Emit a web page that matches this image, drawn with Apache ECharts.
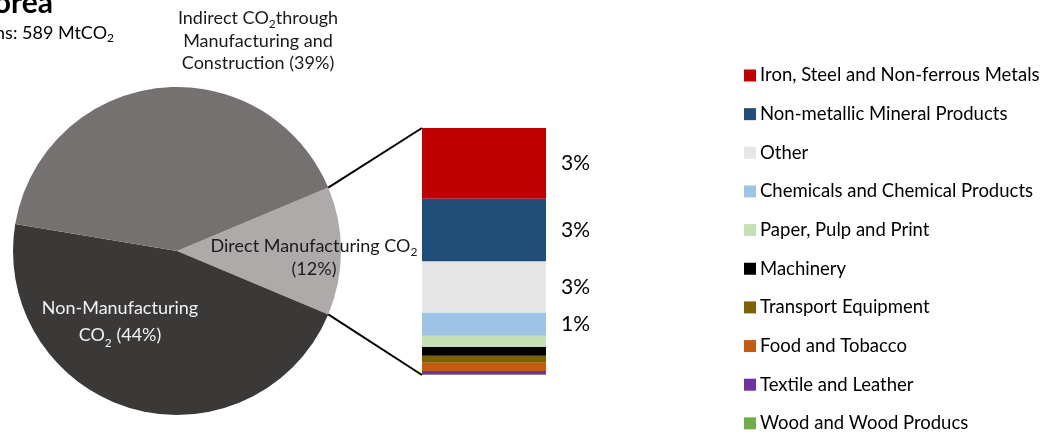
<!DOCTYPE html>
<html>
<head>
<meta charset="utf-8">
<title>Korea – manufacturing CO2</title>
<script src="https://cdn.jsdelivr.net/npm/echarts@6/dist/echarts.min.js"></script>
<style>
  html, body { margin: 0; padding: 0; background: #ffffff; }
  #chart { width: 1055px; height: 437px; }
</style>
</head>
<body>
<div id="chart"></div>
<script>
// Shares of total emissions (%)
const pieNames = ['Direct Manufacturing CO2', 'Non-Manufacturing CO2', 'Indirect CO2 through Manufacturing and Construction'];
const pieValues = [12, 44, 39];
const pieColors = ['#AEAAAA', '#3B3838', '#767171'];

// Breakdown of direct manufacturing CO2 by sector (% of total), top of stack first
const sectorNames = [
  'Iron, Steel and Non-ferrous Metals',
  'Non-metallic Mineral Products',
  'Other',
  'Chemicals and Chemical Products',
  'Paper, Pulp and Print',
  'Machinery',
  'Transport Equipment',
  'Food and Tobacco',
  'Textile and Leather',
  'Wood and Wood Producs'
];
const sectorValues = [3.45, 3.04, 2.5, 1.13, 0.53, 0.44, 0.34, 0.40, 0.18, 0.02];
const sectorColors = ['#C00000', '#1F4E79', '#E7E6E6', '#9DC3E6', '#C5E0B4', '#000000', '#7F6000', '#C55A11', '#7030A0', '#70AD47'];

const titleText = 'Korea';
const totalText = 'Total emissions: 589 MtCO';

const FONT = 'Lato, "Open Sans", sans-serif';
const PIE_CENTER = [177, 251];
const PIE_RADIUS = 164;
const BAR_GRID = { left: 422, top: 128, width: 124, height: 247 };

const pieSum = pieValues.reduce((a, b) => a + b, 0);
const directSweep = 360 * pieValues[0] / pieSum;
const startAngle = directSweep / 2;
const stackTotal = sectorValues.reduce((a, b) => a + b, 0);

function txt(color, lh) {
  return { fontSize: 18, lineHeight: lh, color: color, fontFamily: FONT, textBorderWidth: 0, textShadowBlur: 0 };
}
function subTxt(color) {
  return { fontSize: 12, lineHeight: 11, verticalAlign: 'bottom', color: color, fontFamily: FONT, textBorderWidth: 0, textShadowBlur: 0 };
}

function pieLabel(p) {
  const v = p.value;
  if (p.dataIndex === 0) return '{b|Direct Manufacturing CO}{bs|2}\n{b|(' + v + '%)}';
  if (p.dataIndex === 1) return '{w|Non-Manufacturing}\n{w|CO}{ws|2}{w| (' + v + '%)}';
  return '{k|Indirect CO}{ks|2}{k|through}\n{k|Manufacturing and}\n{k|Construction (' + v + '%)}';
}

// label anchor points for the three slices
const pieLabelPos = [[314, 258], [120, 322], [258, 41]];

const chart = echarts.init(document.getElementById('chart'), null, { renderer: 'canvas' });

const barSeries = sectorNames.map((name, i) => ({
  name: name,
  type: 'bar',
  stack: 'direct',
  barWidth: '100%',
  barCategoryGap: 0,
  itemStyle: { color: sectorColors[i] },
  emphasis: { disabled: true },
  label: {
    show: sectorValues[i] >= 1,
    position: 'right',
    distance: 15,
    fontFamily: FONT,
    fontSize: 21,
    color: '#000000',
    formatter: (p) => Math.round(p.value) + '%'
  },
  data: [sectorValues[i]]
})).reverse();

const option = {
  animation: false,
  backgroundColor: '#ffffff',
  textStyle: { fontFamily: FONT },
  legend: {
    orient: 'vertical',
    left: 744,
    top: 66,
    padding: 0,
    height: 380,
    itemWidth: 12,
    itemHeight: 12,
    itemGap: 19.65,
    icon: 'rect',
    selectedMode: false,
    data: sectorNames,
    textStyle: { fontFamily: FONT, fontSize: 18.5, lineHeight: 18, color: '#000000', padding: [0, 0, 0, -1] }
  },
  grid: BAR_GRID,
  xAxis: { type: 'category', data: ['Direct'], show: false },
  yAxis: { type: 'value', min: 0, max: stackTotal, show: false },
  series: [
    {
      type: 'pie',
      center: PIE_CENTER,
      radius: PIE_RADIUS,
      startAngle: startAngle,
      clockwise: true,
      silent: true,
      itemStyle: { borderWidth: 0 },
      data: pieValues.map((v, i) => ({ name: pieNames[i], value: v, itemStyle: { color: pieColors[i] } })),
      label: {
        show: true,
        position: 'inside',
        formatter: pieLabel,
        textBorderWidth: 0,
        rich: {
          b: txt('#1a1a1a', 23),
          bs: subTxt('#1a1a1a'),
          w: txt('#F2F2F2', 27),
          ws: subTxt('#F2F2F2'),
          k: txt('#1a1a1a', 22.5),
          ks: subTxt('#1a1a1a')
        }
      },
      labelLine: { show: false },
      labelLayout: (p) => ({
        x: pieLabelPos[p.dataIndex][0],
        y: pieLabelPos[p.dataIndex][1],
        align: 'center',
        verticalAlign: 'middle'
      })
    }
  ].concat(barSeries),
  graphic: [
    {
      id: 'title', type: 'text',
      style: {
        text: titleText, x: 53, y: 18, align: 'right', verticalAlign: 'bottom',
        font: 'bold 30px ' + FONT, fill: '#000000'
      }
    },
    {
      id: 'total', type: 'text',
      style: {
        text: '{t|' + totalText + '}{s|2}',
        x: 114, y: 33, align: 'right', verticalAlign: 'middle',
        rich: {
          t: { fontSize: 18, lineHeight: 22, fontFamily: FONT, fontWeight: 'normal', fill: '#000000' },
          s: { fontSize: 12, lineHeight: 11, verticalAlign: 'bottom', fontFamily: FONT, fontWeight: 'normal', fill: '#000000' }
        }
      }
    }
  ]
};

chart.setOption(option);

// connector lines from the direct slice edges to the stacked column corners
function polar(angleDeg) {
  const a = angleDeg * Math.PI / 180;
  return [PIE_CENTER[0] + PIE_RADIUS * Math.cos(a), PIE_CENTER[1] - PIE_RADIUS * Math.sin(a)];
}
const pTop = polar(startAngle);
const pBot = polar(startAngle - directSweep);
const barTop = chart.convertToPixel({ xAxisIndex: 0, yAxisIndex: 0 }, ['Direct', stackTotal]);
const barBot = chart.convertToPixel({ xAxisIndex: 0, yAxisIndex: 0 }, ['Direct', 0]);
const barLeft = BAR_GRID.left;

chart.setOption({
  graphic: [
    {
      id: 'lineTop', type: 'line', z: 100, silent: true,
      shape: { x1: pTop[0], y1: pTop[1], x2: barLeft, y2: barTop[1] },
      style: { stroke: '#000000', lineWidth: 2 }
    },
    {
      id: 'lineBot', type: 'line', z: 100, silent: true,
      shape: { x1: pBot[0], y1: pBot[1], x2: barLeft, y2: barBot[1] },
      style: { stroke: '#000000', lineWidth: 2 }
    }
  ]
});
</script>
</body>
</html>
